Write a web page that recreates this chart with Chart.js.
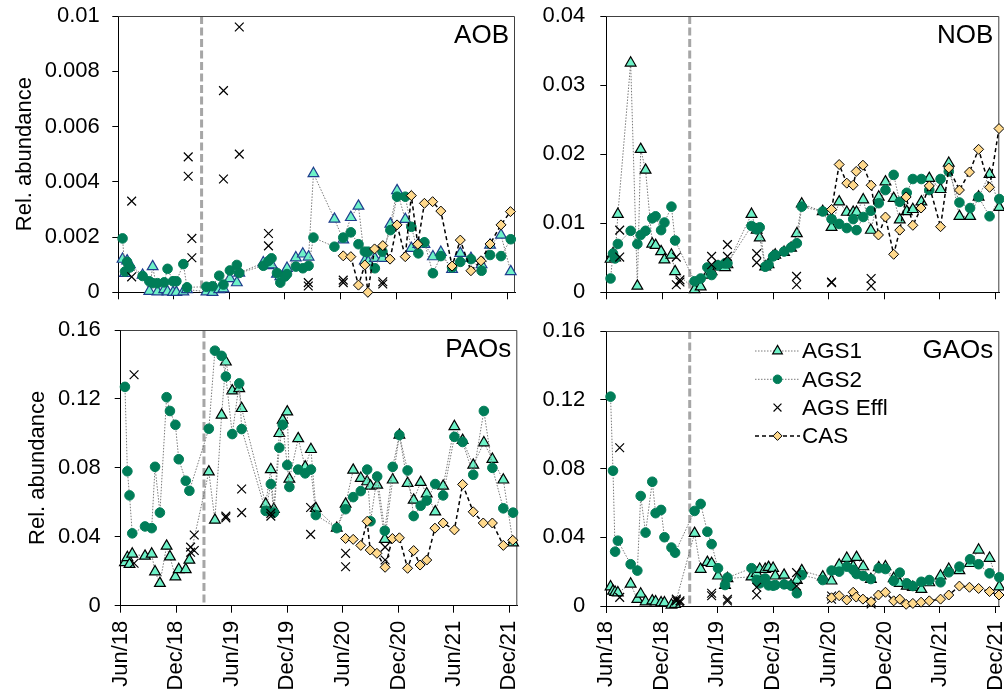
<!DOCTYPE html>
<html>
<head>
<meta charset="utf-8">
<title>Relative abundance</title>
<script src="https://cdn.jsdelivr.net/npm/chart.js@4.4.1/dist/chart.umd.min.js"></script>
<style>
  body { margin: 0; background: #fff; }
  #wrap { position: relative; width: 1004px; height: 692px; overflow: hidden; }
  canvas { position: absolute; }
</style>
</head>
<body>
<div id="wrap">
  <canvas id="aob" width="520" height="300" style="left:0;top:0"></canvas>
  <canvas id="nob" width="484" height="300" style="left:520px;top:0"></canvas>
  <canvas id="pao" width="520" height="392" style="left:0;top:300px"></canvas>
  <canvas id="gao" width="484" height="392" style="left:520px;top:300px"></canvas>
</div>
<script>
// sampling dates
const agsDates = [
  '2018-06-15','2018-06-23','2018-06-30','2018-07-09','2018-08-20','2018-09-11','2018-09-22','2018-10-08','2018-10-30','2018-11-10',
  '2018-11-28','2018-12-09','2019-01-01','2019-01-13','2019-03-18','2019-04-07','2019-04-29','2019-05-13','2019-06-03','2019-06-26',
  '2019-07-04','2019-09-21','2019-10-08','2019-10-18','2019-11-05','2019-11-16','2019-12-01','2019-12-08','2020-01-06','2020-01-29',
  '2020-02-17','2020-03-04','2020-05-12','2020-06-10','2020-07-05','2020-07-30','2020-08-20','2020-08-31','2020-09-22','2020-10-17',
  '2020-11-12','2020-12-04','2020-12-31','2021-01-20','2021-02-12','2021-03-04','2021-04-01','2021-04-27','2021-06-03','2021-06-30',
  '2021-08-04','2021-09-08','2021-10-06','2021-11-11','2021-12-13'
];
const efflDates = [
  '2018-07-15','2018-07-15','2019-01-17','2019-01-17','2019-01-29','2019-01-29','2019-05-13','2019-05-13','2019-07-04','2019-07-04',
  '2019-10-08','2019-10-08','2020-02-16','2020-02-16','2020-06-10','2020-06-10','2020-10-18','2020-10-18'
];
const casDates = [
  '2020-06-10','2020-07-05','2020-07-30','2020-08-20','2020-08-30','2020-09-21','2020-10-18','2020-11-11','2020-12-04','2020-12-31',
  '2021-01-20','2021-02-10','2021-03-04','2021-03-31','2021-04-27','2021-06-03','2021-06-30','2021-08-04','2021-09-06','2021-10-06',
  '2021-11-11','2021-12-12'
];
const switchDate = '2019-03-02';
const tickDates = ['2018-06-01','2018-12-01','2019-06-01','2019-12-01','2020-06-01','2020-12-01','2021-06-01','2021-12-01'];
const tickLabels = ['Jun/18','Dec/18','Jun/19','Dec/19','Jun/20','Dec/20','Jun/21','Dec/21'];
const seriesNames = ['AGS1', 'AGS2', 'AGS Effl', 'CAS'];

// AOB
const aobAGS1 = [0.0012,0.00069,0.00114,0.001,0.00062,0.00004,0.00093,0.00002,0.0001,0.00002,
  0,0,0.00002,0.0001,0.00002,0,0.0001,0.00013,0.0005,0.00035,
  0.0007,0.00107,0.00097,0.001,0.00066,0.00057,0.0007,0.00087,0.00125,0.00139,
  0.00128,0.0043,0.00265,0.0019,0.00271,0.00312,0.00114,0.0011,0.00123,0.00123,
  0.00247,0.00368,0.00264,0.00159,0.00174,0.00174,0.00129,0.00145,0.00083,0.00141,
  0.00123,0.001,0.00171,0.00207,0.00075];
const aobAGS2 = [0.00195,0.00075,0.0011,0.0009,0.00059,0.0004,0.00033,0.00033,0.00036,0.00085,
  0.0004,0.0004,0.00102,0.00018,0.0002,0.00022,0.0006,0.00028,0.00079,0.00099,
  0.0007,0.00096,0.00113,0.00123,0.0007,0.00035,0.00057,0.00066,0.00093,0.00087,
  0.00096,0.00198,0.00165,0.00198,0.00217,0.00174,0.00147,0.00147,0.00087,0.00147,
  0.00225,0.00346,0.00346,0.00237,0.00141,0.00181,0.00069,0.00131,0.0009,0.0011,
  0.0012,0.00078,0.00135,0.00131,0.00192];
const aobEffl = [0.0033,0.00056,0.0049,0.0042,0.00195,0.00125,0.0073,0.0041,0.0096,0.005,
  0.00213,0.00168,0.00035,0.00023,0.00044,0.00035,0.00038,0.0003];
const aobCAS = [0.00132,0.00129,0.00026,0.00099,0,0.00157,0.00169,0.0012,0.00244,0.00129,
  0.0035,0.00174,0.00322,0.00328,0.00294,0.00095,0.00189,0.00078,0.00114,0.00175,
  0.00244,0.00292];

// NOB
const nobAGS1 = [0.0048,0.0056,0.005,0.0113,0.0332,0.0009,0.0207,0.0177,0.007,0.0068,
  0.0059,0.0047,0.0054,0.003,0.0004,0.0008,0.0025,0.003,0.0037,0.0036,
  0.004,0.0113,0.009,0.0079,0.0037,0.004,0.0052,0.0054,0.0058,0.0064,
  0.0085,0.0128,0.0117,0.0094,0.0131,0.0116,0.0116,0.0116,0.0134,0.009,
  0.0138,0.016,0.0136,0.0105,0.0117,0.012,0.0131,0.0165,0.0149,0.0187,
  0.011,0.011,0.0138,0.0171,0.0123];
const nobAGS2 = [0.002,0.0056,0.0049,0.007,0.0089,0.007,0.0083,0.0089,0.0107,0.011,
  0.009,0.0101,0.0124,0.0075,0.0016,0.002,0.0036,0.0025,0.0039,0.0042,
  0.0042,0.0096,0.0091,0.0094,0.0037,0.004,0.0052,0.0054,0.0059,0.0065,
  0.0071,0.0124,0.0117,0.0106,0.0099,0.0093,0.0106,0.009,0.0109,0.0118,
  0.0129,0.0148,0.017,0.0131,0.0144,0.0164,0.0164,0.0148,0.0164,0.0175,
  0.013,0.0122,0.0138,0.011,0.0135];
const nobEffl = [0.009,0.0051,0.0051,0.0011,0.0018,0.0015,0.0052,0.004,0.0069,0.0052,
  0.0056,0.0043,0.0023,0.0011,0.0015,0.0014,0.002,0.0009];
const nobCAS = [0.012,0.0185,0.0158,0.0155,0.0175,0.0184,0.0155,0.0083,0.0109,0.0055,
  0.009,0.0138,0.0097,0.0122,0.0154,0.0095,0.018,0.0148,0.0174,0.0207,
  0.0152,0.0237];

// PAOs
const paoAGS1 = [0.025,0.028,0.024,0.03,0.0288,0.03,0.0197,0.013,0.0346,0.0284,
  0.0168,0.021,0.021,0.0265,0.0777,0.0497,0.1106,0.1415,0.1247,0.126,
  0.1145,0.059,0.079,0.056,0.1,0.1077,0.1125,0.0735,0.097,0.0806,
  0.0907,0.0565,0.045,0.059,0.0787,0.074,0.072,0.0694,0.07,0.0385,
  0.073,0.099,0.071,0.0613,0.0716,0.065,0.0545,0.0694,0.104,0.096,
  0.0816,0.0946,0.085,0.073,0.0365];
const paoAGS2 = [0.127,0.078,0.064,0.042,0.046,0.045,0.0806,0.054,0.121,0.113,
  0.105,0.085,0.0725,0.0667,0.1027,0.148,0.145,0.133,0.0996,0.129,
  0.1025,0.055,0.0706,0.054,0.0917,0.105,0.0816,0.0689,0.079,0.0768,
  0.079,0.0526,0.045,0.056,0.063,0.0665,0.079,0.049,0.075,0.0435,
  0.0806,0.099,0.0785,0.052,0.058,0.061,0.0706,0.064,0.098,0.095,
  0.076,0.113,0.08,0.0565,0.054];
const paoEffl = [0.134,0.0246,0.034,0.031,0.041,0.032,0.052,0.051,0.0677,0.054,
  0.0536,0.052,0.057,0.0414,0.0304,0.0226,0.034,0.0265];
const paoCAS = [0.039,0.0385,0.035,0.049,0.0323,0.0304,0.0223,0.039,0.0394,0.0217,
  0.032,0.0236,0.0265,0.045,0.048,0.044,0.0704,0.0545,0.048,0.048,
  0.035,0.038];

// GAOs
const gaoAGS1 = [0.0112,0.0087,0.008,0.0077,0.0128,0.0039,0.007,0.0025,0.003,0.0025,
  0.0019,0.0019,0.0006,0.001,0.0423,0.0214,0.0254,0.0248,0.0175,0.012,
  0.016,0.017,0.019,0.0214,0.0214,0.0225,0.022,0.0175,0.018,0.012,
  0.015,0.0206,0.017,0.0146,0.0239,0.0278,0.023,0.0283,0.0229,0.0155,
  0.0223,0.0229,0.016,0.0132,0.0116,0.0109,0.0097,0.0136,0.0175,0.0214,
  0.0206,0.0248,0.0326,0.0278,0.0112];
const gaoAGS2 = [0.1218,0.0787,0.0316,0.038,0.0243,0.0206,0.064,0.0427,0.0723,0.054,
  0.0559,0.04,0.034,0.031,0.0553,0.0594,0.0432,0.036,0.022,0.0122,
  0.0165,0.022,0.0151,0.0132,0.016,0.012,0.0118,0.0122,0.0126,0.0118,
  0.0074,0.018,0.0151,0.0206,0.02,0.0229,0.021,0.0186,0.0175,0.0157,
  0.022,0.0215,0.0146,0.0194,0.0132,0.0116,0.0141,0.0151,0.0138,0.0196,
  0.0229,0.0272,0.0243,0.019,0.0167];
const gaoEffl = [0.0921,0.005,0.004,0.003,0.003,0.002,0.0074,0.006,0.0039,0.0029,
  0.0109,0.0064,0.0194,0.0116,0.0058,0.0039,0.0025,0.0012];
const gaoCAS = [0.0048,0.006,0.0035,0.008,0.0052,0.004,0.0025,0.0064,0.008,0.003,
  0.004,0.001,0.0015,0.0022,0.003,0.004,0.0064,0.0116,0.0109,0.0102,
  0.0084,0.0064];

Chart.defaults.font.family = "'Liberation Sans', Arial, sans-serif";
Chart.defaults.color = '#000';

const START = Date.UTC(2018, 5, 1);
function toDay(s) {
  const [y, m, d] = s.split('-').map(Number);
  return (Date.UTC(y, m - 1, d) - START) / 864e5;
}
function points(dates, values) {
  return dates.map((d, i) => ({ x: toDay(d), y: values[i] }));
}

// dashed switch line, box edges and panel name
const panelDeco = {
  id: 'panelDeco',
  beforeDatasetsDraw(chart, args, opts) {
    const { ctx, chartArea: a } = chart;
    const sx = chart.scales.x.getPixelForValue(toDay(opts.switchDate));
    ctx.save();
    ctx.strokeStyle = '#a6a6a6';
    ctx.lineWidth = 3;
    ctx.setLineDash([8, 3.5]);
    ctx.beginPath();
    ctx.moveTo(sx, a.top);
    ctx.lineTo(sx, a.bottom);
    ctx.stroke();
    ctx.setLineDash([]);
    ctx.strokeStyle = '#404040';
    ctx.lineWidth = 1;
    ctx.beginPath();
    ctx.moveTo(a.left, a.top + 0.5);
    ctx.lineTo(a.right - 0.5, a.top + 0.5);
    ctx.lineTo(a.right - 0.5, a.bottom);
    ctx.stroke();
    ctx.restore();
  },
  afterDatasetsDraw(chart, args, opts) {
    const { ctx, chartArea: a } = chart;
    ctx.save();
    ctx.font = "26px 'Liberation Sans', Arial, sans-serif";
    ctx.fillStyle = '#000';
    ctx.textAlign = 'right';
    ctx.textBaseline = 'middle';
    ctx.fillText(opts.name, a.right - 6, a.top + 20);
    ctx.restore();
  }
};

// legend drawn inside the GAOs panel
const boxLegend = {
  id: 'boxLegend',
  afterDatasetsDraw(chart, args, opts) {
    if (!opts.show) return;
    const ctx = chart.ctx;
    ctx.save();
    chart.data.datasets.forEach((ds, i) => {
      const y = opts.top + i * opts.gap;
      if (ds.showLine !== false) {
        ctx.strokeStyle = ds.borderColor;
        ctx.lineWidth = ds.borderWidth;
        ctx.setLineDash(ds.borderDash || []);
        ctx.beginPath();
        ctx.moveTo(opts.x0, y);
        ctx.lineTo(opts.x1, y);
        ctx.stroke();
      }
      ctx.setLineDash([]);
      ctx.fillStyle = ds.pointBackgroundColor;
      ctx.strokeStyle = ds.pointBorderColor;
      ctx.lineWidth = ds.pointBorderWidth;
      Chart.helpers.drawPoint(ctx, {
        pointStyle: ds.pointStyle, radius: ds.pointRadius * 0.9, rotation: 0, borderWidth: ds.pointBorderWidth
      }, (opts.x0 + opts.x1) / 2, y);
      ctx.fillStyle = '#000';
      ctx.font = "22.5px 'Liberation Sans', Arial, sans-serif";
      ctx.textAlign = 'left';
      ctx.textBaseline = 'middle';
      ctx.fillText(seriesNames[i], opts.x1 + 2, y + 1);
    });
    ctx.restore();
  }
};

const panels = [
  { id: 'aob', name: 'AOB', yMax: 0.01, yStep: 0.002, data: [aobAGS1, aobAGS2, aobEffl, aobCAS],
    canvas: { left: 0, top: 0, w: 520, h: 300 }, area: { left: 118.3, top: 16, right: 515, bottom: 292.3 },
    xEnd: '2021-12-27', yTitle: 11.8, tickPad: 12.5, xLabels: false, triEdge: '#1f3c8c' },
  { id: 'nob', name: 'NOB', yMax: 0.04, yStep: 0.01, data: [nobAGS1, nobAGS2, nobEffl, nobCAS],
    canvas: { left: 520, top: 0, w: 484, h: 300 }, area: { left: 606.3, top: 16, right: 999.3, bottom: 292.3 },
    xEnd: '2021-12-13', yTitle: null, tickPad: 15, xLabels: false, triEdge: '#000' },
  { id: 'pao', name: 'PAOs', yMax: 0.16, yStep: 0.04, data: [paoAGS1, paoAGS2, paoEffl, paoCAS],
    canvas: { left: 0, top: 300, w: 520, h: 392 }, area: { left: 120.7, top: 330, right: 517.3, bottom: 605.7 },
    xEnd: '2021-12-27', yTitle: 24.8, tickPad: 14, xLabels: true, triEdge: '#000' },
  { id: 'gao', name: 'GAOs', yMax: 0.16, yStep: 0.04, data: [gaoAGS1, gaoAGS2, gaoEffl, gaoCAS],
    canvas: { left: 520, top: 300, w: 484, h: 392 }, area: { left: 606.3, top: 331, right: 999.3, bottom: 606 },
    xEnd: '2021-12-13', yTitle: null, tickPad: 15, xLabels: true, triEdge: '#000', legend: true }
];

panels.forEach(p => {
  const [ags1, ags2, effl, cas] = p.data;
  const c = p.canvas, a = p.area;
  const common = { spanGaps: true, clip: false, pointHoverRadius: 0 };

  new Chart(document.getElementById(p.id), {
    type: 'line',
    data: {
      datasets: [
        { ...common, label: seriesNames[0], data: points(agsDates, ags1), order: 4,
          borderColor: '#7a7a7a', borderWidth: 1, borderDash: [1.5, 1.5],
          pointStyle: 'triangle', pointRadius: 6.2, pointBackgroundColor: '#6df2c7',
          pointBorderColor: p.triEdge, pointBorderWidth: 1.2 },
        { ...common, label: seriesNames[1], data: points(agsDates, ags2), order: 3,
          borderColor: '#7a7a7a', borderWidth: 1, borderDash: [1.5, 1.5],
          pointStyle: 'circle', pointRadius: 4.8, pointBackgroundColor: '#007d58',
          pointBorderColor: '#007d58', pointBorderWidth: 1 },
        { ...common, label: seriesNames[2], data: points(efflDates, effl), order: 2, showLine: false,
          borderColor: '#000', pointStyle: 'crossRot', pointRadius: 6.2,
          pointBackgroundColor: '#000', pointBorderColor: '#000', pointBorderWidth: 1.2 },
        { ...common, label: seriesNames[3], data: points(casDates, cas), order: 1,
          borderColor: '#000', borderWidth: 1.5, borderDash: [4, 3],
          pointStyle: 'rectRot', pointRadius: 5, pointBackgroundColor: '#ffd98c',
          pointBorderColor: '#000', pointBorderWidth: 1 }
      ]
    },
    options: {
      responsive: false,
      animation: false,
      events: [],
      layout: {
        autoPadding: false,
        padding: { left: 0, top: a.top - c.top, right: c.left + c.w - a.right, bottom: 0 }
      },
      plugins: {
        legend: { display: false },
        tooltip: { enabled: false },
        panelDeco: { name: p.name, switchDate },
        boxLegend: { show: !!p.legend, x0: 235, x1: 280, top: 51, gap: 28.3 }
      },
      scales: {
        x: {
          type: 'linear',
          min: 0,
          max: toDay(p.xEnd),
          afterBuildTicks: s => { s.ticks = tickDates.map(d => ({ value: toDay(d) })); },
          afterFit: s => { s.height = c.top + c.h - a.bottom; s.paddingLeft = 0; s.paddingRight = 0; },
          ticks: {
            display: p.xLabels, autoSkip: false, minRotation: 90, maxRotation: 90,
            padding: 8, font: { size: 22 }, callback: (v, i) => tickLabels[i]
          },
          grid: { drawOnChartArea: false, drawTicks: true, tickLength: 7, color: '#000' },
          border: { color: '#000', width: 1 }
        },
        y: {
          min: 0,
          max: p.yMax,
          afterFit: s => { s.width = a.left - c.left; s.paddingTop = 0; s.paddingBottom = 0; },
          ticks: {
            stepSize: p.yStep, padding: p.tickPad, font: { size: 22 },
            callback: v => String(+v.toFixed(4))
          },
          title: {
            display: p.yTitle !== null, text: 'Rel. abundance', font: { size: 22 },
            padding: { top: p.yTitle || 0, bottom: 0 }
          },
          grid: { drawOnChartArea: false, drawTicks: true, tickLength: 6, color: '#000' },
          border: { color: '#000', width: 1 }
        }
      }
    },
    plugins: [panelDeco, boxLegend]
  });
});
</script>
</body>
</html>
